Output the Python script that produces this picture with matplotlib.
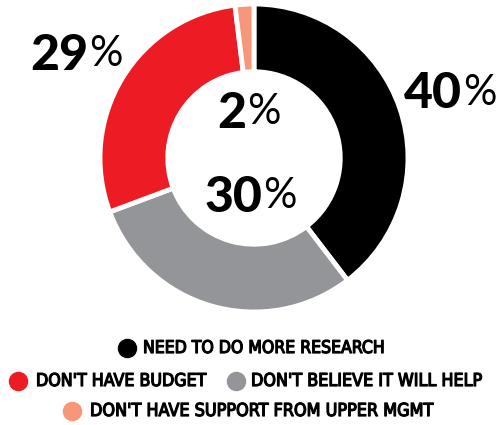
import matplotlib
matplotlib.use("Agg")
import matplotlib.pyplot as plt
import matplotlib.patheffects as pe

categories = ["NEED TO DO MORE RESEARCH", "DON'T BELIEVE IT WILL HELP",
              "DON'T HAVE BUDGET", "DON'T HAVE SUPPORT FROM UPPER MGMT"]
values = [40, 30, 29, 2]
colors = ["#000000", "#939598", "#ED1C24", "#F79679"]
value_labels = ["40", "30", "29", "2"]

W, H = 498, 425
fig = plt.figure(figsize=(W / 100, H / 100), dpi=100)
fig.patch.set_facecolor("white")

cx, cy, r = 254, 158, 154
ax = fig.add_axes([(cx - r) / W, (H - cy - r) / H, 2 * r / W, 2 * r / H])
ax.pie(values, colors=colors, startangle=90, counterclock=False,
       radius=1.0, wedgeprops=dict(width=0.44, edgecolor="white", linewidth=3.5))
ax.set_xlim(-1, 1)
ax.set_ylim(-1, 1)
ax.set_aspect("equal")
ax.axis("off")

def fx(x):
    return x / W

def fy(y):
    return 1 - y / H

# percentage labels: (split x, center y) in pixels
label_pos = {"40": (462, 94), "30": (262, 197), "29": (88, 55), "2": (246, 113)}
for lab in value_labels:
    x, y = label_pos[lab]
    fig.text(fx(x), fy(y), lab, ha="right", va="center", fontsize=36,
             family="Lato", weight="black", color="black")
    fig.text(fx(x + 1), fy(y - 1), "%", ha="left", va="center", fontsize=30,
             family="Lato", weight="normal", color="black")

# legend: (text, colour, marker x, text x0, text x1, y)
legend_items = [
    (categories[0], colors[0], 127, 143, 386, 348),
    (categories[2], colors[2], 18, 36, 207, 381),
    (categories[1], colors[1], 236, 251, 483, 381),
    (categories[3], colors[3], 72, 90, 435, 411),
]
fig.canvas.draw()
renderer = fig.canvas.get_renderer()
for text, col, mx, x0, x1, y in legend_items:
    fig.lines.append(plt.Line2D([fx(mx)], [fy(y)], marker="o", markersize=13,
                                color=col, linestyle="none", transform=fig.transFigure))
    t = fig.text(fx(x0), fy(y), text, ha="left", va="center", fontsize=16,
                 family=["Liberation Sans Narrow", "DejaVu Sans"], stretch="condensed",
                 weight="normal", color="black",
                 path_effects=[pe.withStroke(linewidth=0.9, foreground="black")])
    w = t.get_window_extent(renderer).width
    t.set_fontsize(16 * (x1 - x0) / w)

fig.savefig("out.png", dpi=100, facecolor="white")
